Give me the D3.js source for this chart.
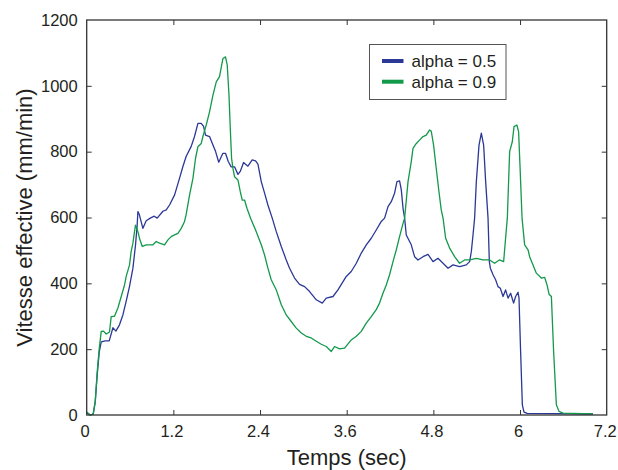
<!DOCTYPE html>
<html>
<head>
<meta charset="utf-8">
<script src="https://cdn.jsdelivr.net/npm/d3@7"></script>
<style>
  html, body { margin: 0; padding: 0; background: #fff; }
  svg { display: block; font-family: "Liberation Sans", Arial, Helvetica, sans-serif; }
</style>
</head>
<body>
<svg id="chart" width="618" height="470"></svg>
<script>
// ---- data ----
const blueTime = [0, 0.048, 0.09, 0.118, 0.145, 0.173, 0.201, 0.256, 0.312, 0.363, 0.404, 0.454, 0.501, 0.547, 0.593, 0.640, 0.676, 0.699, 0.709, 0.727, 0.778, 0.824, 0.880, 0.935, 0.976, 1.055, 1.101, 1.147, 1.216, 1.285, 1.332, 1.378, 1.447, 1.493, 1.540, 1.586, 1.618, 1.645, 1.701, 1.748, 1.784, 1.828, 1.886, 1.922, 1.960, 2.001, 2.047, 2.094, 2.126, 2.172, 2.232, 2.292, 2.338, 2.371, 2.417, 2.463, 2.509, 2.569, 2.625, 2.694, 2.763, 2.809, 2.878, 2.947, 3.017, 3.086, 3.179, 3.262, 3.317, 3.410, 3.479, 3.594, 3.663, 3.733, 3.802, 3.871, 3.940, 4.009, 4.079, 4.125, 4.172, 4.217, 4.263, 4.296, 4.332, 4.356, 4.380, 4.402, 4.425, 4.494, 4.540, 4.587, 4.657, 4.726, 4.795, 4.864, 4.934, 5.003, 5.072, 5.163, 5.256, 5.302, 5.326, 5.349, 5.371, 5.395, 5.432, 5.464, 5.496, 5.524, 5.557, 5.575, 5.589, 5.626, 5.662, 5.695, 5.727, 5.765, 5.800, 5.834, 5.870, 5.911, 5.939, 5.972, 5.986, 6.008, 6.032, 6.055, 6.10, 6.50, 7.01];
const blueSpeed = [8, 0, 3, 40, 120, 190, 222, 225, 225, 265, 255, 274, 304, 346, 391, 446, 517, 577, 618, 610, 567, 590, 598, 604, 598, 619, 623, 638, 668, 719, 755, 786, 816, 846, 886, 886, 877, 850, 846, 820, 801, 768, 795, 795, 770, 754, 754, 731, 740, 767, 756, 775, 772, 762, 709, 674, 638, 598, 557, 512, 471, 446, 416, 397, 390, 375, 350, 340, 355, 360, 380, 421, 436, 461, 492, 517, 537, 562, 588, 598, 633, 648, 674, 709, 711, 684, 628, 598, 547, 517, 481, 471, 481, 488, 466, 476, 461, 446, 456, 451, 456, 466, 497, 547, 598, 709, 820, 856, 820, 709, 598, 466, 446, 426, 411, 390, 385, 360, 380, 355, 370, 340, 360, 373, 355, 193, 31, 9, 5, 4, 3];

const greenTime = [0, 0.048, 0.09, 0.118, 0.145, 0.173, 0.201, 0.233, 0.270, 0.316, 0.339, 0.385, 0.432, 0.478, 0.524, 0.547, 0.593, 0.616, 0.640, 0.662, 0.676, 0.709, 0.731, 0.769, 0.824, 0.917, 0.963, 1.008, 1.078, 1.125, 1.170, 1.216, 1.263, 1.309, 1.355, 1.378, 1.424, 1.471, 1.507, 1.540, 1.586, 1.609, 1.655, 1.701, 1.748, 1.794, 1.839, 1.886, 1.922, 1.946, 1.970, 1.988, 2.006, 2.025, 2.047, 2.094, 2.126, 2.154, 2.186, 2.219, 2.269, 2.348, 2.417, 2.463, 2.509, 2.555, 2.625, 2.694, 2.763, 2.832, 2.902, 2.971, 3.040, 3.109, 3.179, 3.248, 3.317, 3.386, 3.432, 3.501, 3.571, 3.663, 3.733, 3.802, 3.871, 3.940, 4.009, 4.055, 4.102, 4.148, 4.194, 4.241, 4.287, 4.332, 4.380, 4.402, 4.449, 4.494, 4.518, 4.564, 4.609, 4.657, 4.702, 4.748, 4.771, 4.803, 4.840, 4.877, 4.909, 4.934, 4.970, 5.025, 5.094, 5.163, 5.233, 5.302, 5.395, 5.487, 5.579, 5.648, 5.713, 5.773, 5.800, 5.824, 5.856, 5.893, 5.917, 5.956, 5.980, 6.001, 6.028, 6.064, 6.111, 6.133, 6.170, 6.226, 6.295, 6.341, 6.374, 6.402, 6.434, 6.465, 6.503, 6.540, 6.595, 7.011];
const greenSpeed = [8, 0, 3, 40, 130, 200, 254, 255, 246, 252, 299, 300, 325, 360, 395, 421, 456, 497, 522, 557, 577, 557, 537, 512, 517, 517, 527, 522, 517, 532, 542, 547, 552, 567, 588, 610, 668, 719, 780, 815, 825, 846, 881, 921, 972, 1012, 1028, 1083, 1088, 1063, 972, 871, 780, 749, 724, 714, 679, 653, 653, 628, 598, 557, 517, 486, 446, 411, 380, 335, 304, 284, 264, 249, 239, 234, 224, 215, 208, 193, 208, 201, 203, 228, 239, 254, 279, 299, 320, 340, 370, 395, 426, 466, 502, 542, 582, 598, 709, 770, 810, 825, 835, 846, 850, 866, 862, 820, 749, 679, 623, 598, 537, 507, 481, 461, 471, 471, 476, 471, 471, 461, 471, 466, 537, 598, 800, 830, 876, 881, 861, 749, 598, 517, 502, 481, 461, 431, 416, 418, 395, 367, 360, 193, 31, 11, 6, 3];

const xTicks = [0, 1.2, 2.4, 3.6, 4.8, 6, 7.2];
const yTicks = [0, 200, 400, 600, 800, 1000, 1200];
const seriesNames = ["alpha = 0.5", "alpha = 0.9"];
const seriesColors = ["#2b3896", "#12994a"];
const xLabel = "Temps (sec)";
const yLabel = "Vitesse effective (mm/min)";

// ---- layout ----
const svg = d3.select("#chart");
const L = 86.7, R = 606.7, T = 20, B = 415;
const x = d3.scaleLinear().domain([0, 7.2]).range([L, R]);
const y = d3.scaleLinear().domain([0, 1200]).range([B, T]);
const axisColor = "#333";
const textColor = "#231f20";

const series = [
  { name: seriesNames[0], color: seriesColors[0], pts: blueTime.map((t, i) => [t, blueSpeed[i]]) },
  { name: seriesNames[1], color: seriesColors[1], pts: greenTime.map((t, i) => [t, greenSpeed[i]]) }
];
const line = d3.line().x(d => x(d[0])).y(d => y(d[1]));

svg.append("g")
  .selectAll("path").data(series).join("path")
  .attr("d", d => line(d.pts))
  .attr("fill", "none")
  .attr("stroke", d => d.color)
  .attr("stroke-width", 1.3)
  .attr("stroke-linejoin", "round");

function styleAxis(g) {
  g.selectAll(".domain").remove();
  g.selectAll(".tick line").attr("stroke", axisColor).attr("stroke-width", 1);
  g.selectAll(".tick text").attr("fill", textColor)
    .style("font-size", "16.5px").style("font-family", "Liberation Sans, Arial, sans-serif");
}
const axBottom = svg.append("g").attr("transform", `translate(0,${B})`)
  .call(d3.axisBottom(x).tickValues(xTicks).tickSize(-5).tickPadding(10).tickFormat(d3.format("~g")));
styleAxis(axBottom);
axBottom.selectAll(".tick text").attr("dx", "-2");
axBottom.selectAll(".tick").filter(d => d === 0 || d === 7.2).select("line").remove();

const axTop = svg.append("g").attr("transform", `translate(0,${T})`)
  .call(d3.axisTop(x).tickValues(xTicks).tickSize(-5).tickFormat(""));
styleAxis(axTop);
axTop.selectAll(".tick").filter(d => d === 0 || d === 7.2).select("line").remove();

const axLeft = svg.append("g").attr("transform", `translate(${L},0)`)
  .call(d3.axisLeft(y).tickValues(yTicks).tickSize(-5).tickPadding(9).tickFormat(d3.format("d")));
styleAxis(axLeft);
axLeft.selectAll(".tick").filter(d => d === 0 || d === 1200).select("line").remove();

const axRight = svg.append("g").attr("transform", `translate(${R},0)`)
  .call(d3.axisRight(y).tickValues(yTicks).tickSize(-5).tickFormat(""));
styleAxis(axRight);
axRight.selectAll(".tick").filter(d => d === 0 || d === 1200).select("line").remove();

svg.append("rect").attr("x", L).attr("y", T).attr("width", R - L).attr("height", B - T)
  .attr("fill", "none").attr("stroke", axisColor).attr("stroke-width", 1.3);

svg.append("text").attr("x", (L + R) / 2).attr("y", 465)
  .attr("text-anchor", "middle").attr("fill", textColor)
  .style("font-size", "22px").text(xLabel);
svg.append("text").attr("transform", `translate(32,${(T + B) / 2}) rotate(-90)`)
  .attr("text-anchor", "middle").attr("fill", textColor)
  .style("font-size", "22px").text(yLabel);

const lg = svg.append("g");
lg.append("rect").attr("x", 369.5).attr("y", 44.5).attr("width", 136.5).attr("height", 55)
  .attr("fill", "#fff").attr("stroke", "#555").attr("stroke-width", 1);
series.forEach((s, i) => {
  const yy = 61 + i * 20.7;
  lg.append("line").attr("x1", 382).attr("x2", 403.5).attr("y1", yy).attr("y2", yy)
    .attr("stroke", s.color).attr("stroke-width", 4);
  lg.append("text").attr("x", 411.5).attr("y", yy + 6).attr("fill", textColor)
    .style("font-size", "17px").text(s.name);
});
</script>
</body>
</html>
